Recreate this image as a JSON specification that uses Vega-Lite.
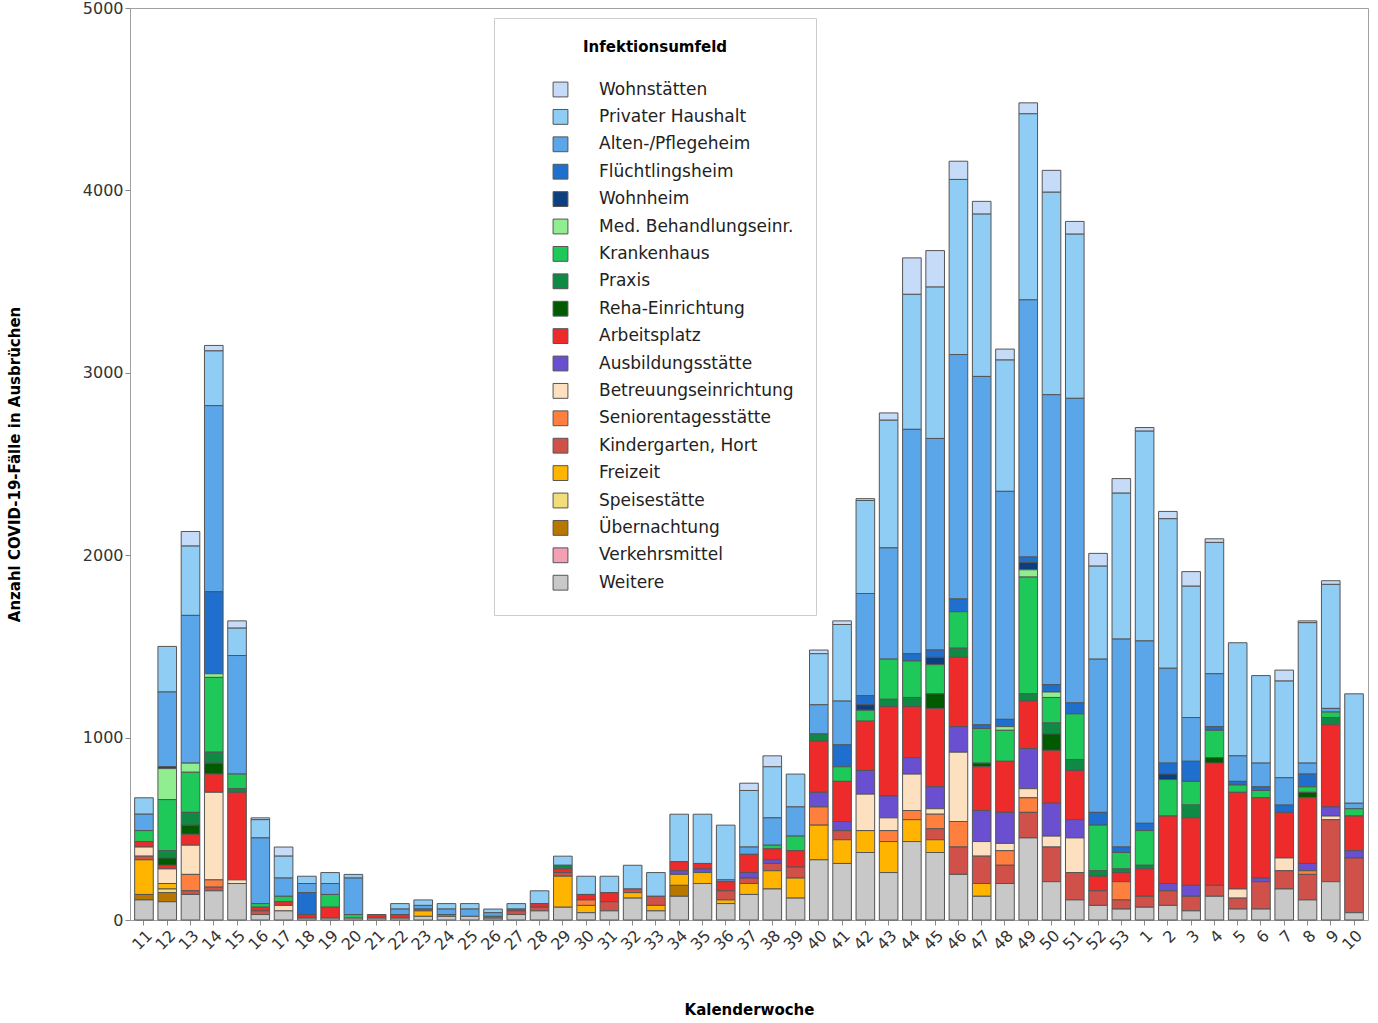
{
"$schema":"https://vega.github.io/schema/vega-lite/v6.json",
"width":1238,"height":912,"autosize":"none",
"padding":{"left":130,"top":8,"right":10,"bottom":103},
"background":"white",
"config":{"font":"DejaVu Sans","view":{"stroke":"#a0a0a0"}},
"data":{"values":[
{"w":"11","a19":110,"a17":30,"a15":190,"a12":50,"a14":20,"a10":30,"a07":60,"a03":90,"a02":90},
{"w":"12","a19":100,"a17":50,"a15":30,"a16":20,"a12":80,"a10":20,"a09":40,"a08":40,"a07":280,"a06":170,"a05":10,"a03":410,"a02":250},
{"w":"13","a19":140,"a14":20,"a13":90,"a12":160,"a10":60,"a09":50,"a08":70,"a07":220,"a06":50,"a03":810,"a02":380,"a01":80},
{"w":"14","a19":160,"a14":20,"a13":40,"a12":480,"a10":100,"a09":60,"a08":60,"a07":410,"a06":20,"a04":450,"a03":1020,"a02":300,"a01":30},
{"w":"15","a19":200,"a12":20,"a10":480,"a08":20,"a07":80,"a03":650,"a02":150,"a01":40},
{"w":"16","a19":30,"a14":20,"a10":20,"a07":20,"a03":360,"a02":100,"a01":10},
{"w":"17","a19":50,"a12":30,"a10":20,"a07":30,"a03":100,"a02":120,"a01":50},
{"w":"18","a19":10,"a10":20,"a04":120,"a03":50,"a02":40},
{"w":"19","a19":10,"a10":60,"a07":70,"a03":60,"a02":60},
{"w":"20","a19":10,"a07":20,"a03":200,"a02":20},
{"w":"21","a19":10,"a10":20},
{"w":"22","a19":10,"a10":20,"a03":30,"a02":30},
{"w":"23","a19":20,"a15":30,"a10":10,"a03":20,"a02":30},
{"w":"24","a19":20,"a07":10,"a03":30,"a02":30},
{"w":"25","a19":20,"a03":40,"a02":30},
{"w":"26","a19":10,"a07":10,"a03":20,"a02":20},
{"w":"27","a19":30,"a14":20,"a10":10,"a02":30},
{"w":"28","a19":50,"a14":20,"a10":20,"a02":70},
{"w":"29","a19":70,"a15":170,"a14":20,"a10":20,"a08":20,"a02":50},
{"w":"30","a19":40,"a15":40,"a13":30,"a10":30,"a02":100},
{"w":"31","a19":50,"a14":50,"a10":50,"a02":90},
{"w":"32","a19":120,"a15":30,"a14":20,"a02":130},
{"w":"33","a19":50,"a15":30,"a14":50,"a02":130},
{"w":"34","a19":130,"a17":60,"a15":60,"a10":50,"a11":20,"a02":260},
{"w":"35","a19":200,"a15":60,"a10":30,"a11":20,"a02":270},
{"w":"36","a19":90,"a15":20,"a14":50,"a10":50,"a03":10,"a02":300},
{"w":"37","a19":140,"a15":60,"a14":30,"a10":100,"a11":30,"a03":40,"a02":310,"a01":40},
{"w":"38","a19":170,"a15":100,"a14":40,"a10":60,"a11":20,"a07":20,"a03":150,"a02":280,"a01":60},
{"w":"39","a19":120,"a15":110,"a14":60,"a10":90,"a07":80,"a03":160,"a02":180},
{"w":"40","a19":330,"a15":190,"a13":100,"a11":80,"a10":280,"a08":40,"a03":160,"a02":280,"a01":20},
{"w":"41","a19":310,"a15":130,"a14":50,"a11":50,"a10":220,"a07":80,"a04":120,"a03":240,"a02":420,"a01":20},
{"w":"42","a19":370,"a15":120,"a12":200,"a11":130,"a10":270,"a07":60,"a05":30,"a04":50,"a03":560,"a02":510,"a01":10},
{"w":"43","a19":260,"a15":170,"a12":70,"a13":60,"a11":120,"a10":490,"a08":40,"a07":220,"a03":610,"a02":700,"a01":40},
{"w":"44","a19":430,"a15":120,"a12":200,"a13":50,"a11":90,"a10":280,"a08":50,"a07":200,"a04":40,"a03":1230,"a02":740,"a01":200},
{"w":"45","a19":370,"a15":70,"a14":60,"a13":80,"a12":30,"a11":120,"a10":430,"a09":80,"a07":160,"a05":40,"a04":40,"a03":1160,"a02":830,"a01":200},
{"w":"46","a19":250,"a14":150,"a13":140,"a12":380,"a11":140,"a10":380,"a08":50,"a07":200,"a04":70,"a03":1340,"a02":960,"a01":100},
{"w":"47","a19":130,"a15":70,"a14":150,"a12":80,"a11":170,"a10":240,"a09":20,"a07":190,"a04":20,"a03":1910,"a02":890,"a01":70},
{"w":"48","a19":200,"a14":100,"a13":80,"a12":40,"a11":170,"a10":280,"a07":170,"a06":20,"a04":40,"a03":1250,"a02":720,"a01":60},
{"w":"49","a19":450,"a14":140,"a13":80,"a12":50,"a11":220,"a10":260,"a08":40,"a07":640,"a06":40,"a05":40,"a04":30,"a03":1410,"a02":1020,"a01":60},
{"w":"50","a19":210,"a14":190,"a12":60,"a11":180,"a10":290,"a09":90,"a08":60,"a07":140,"a06":30,"a04":40,"a03":1590,"a02":1110,"a01":120},
{"w":"51","a19":110,"a14":150,"a12":190,"a11":100,"a10":270,"a08":60,"a07":250,"a04":60,"a03":1670,"a02":900,"a01":70},
{"w":"52","a19":80,"a14":80,"a10":80,"a08":30,"a07":250,"a04":70,"a03":840,"a02":510,"a01":70},
{"w":"53","a19":60,"a13":100,"a14":50,"a10":50,"a08":20,"a07":90,"a04":30,"a03":1140,"a02":800,"a01":80},
{"w":"1","a19":70,"a14":60,"a10":150,"a08":20,"a07":190,"a04":40,"a03":1000,"a02":1150,"a01":20},
{"w":"2","a19":80,"a14":80,"a11":40,"a10":370,"a07":200,"a05":30,"a04":60,"a03":520,"a02":820,"a01":40},
{"w":"3","a19":50,"a14":80,"a11":60,"a10":370,"a08":70,"a07":130,"a04":110,"a03":240,"a02":720,"a01":80},
{"w":"4","a19":130,"a14":60,"a10":670,"a09":30,"a07":150,"a04":20,"a03":290,"a02":720,"a01":20},
{"w":"5","a19":60,"a14":60,"a12":50,"a10":530,"a07":40,"a04":20,"a03":140,"a02":620},
{"w":"6","a19":60,"a14":150,"a11":20,"a10":440,"a07":40,"a04":20,"a03":130,"a02":480},
{"w":"7","a19":170,"a14":100,"a12":70,"a10":250,"a04":40,"a03":150,"a02":530,"a01":60},
{"w":"8","a19":110,"a14":140,"a13":20,"a11":40,"a10":360,"a09":30,"a07":30,"a04":70,"a03":60,"a02":770,"a01":10},
{"w":"9","a19":210,"a14":340,"a12":20,"a11":50,"a10":450,"a08":40,"a07":30,"a03":20,"a02":680,"a01":20},
{"w":"10","a19":40,"a14":300,"a11":40,"a10":190,"a07":40,"a03":30,"a02":600}
]},
"transform":[{"fold":["a01","a02","a03","a04","a05","a06","a07","a08","a09","a10","a11","a12","a13","a14","a15","a16","a17","a18","a19"],"as":["k","v"]},{"filter":"isValid(datum.v)"}],
"mark":{"type":"bar","stroke":"#555555","strokeWidth":1},
"encoding":{
"x":{"field":"w","type":"ordinal","sort":null,"title":"Kalenderwoche","scale":{"paddingInner":0.2,"paddingOuter":0.2},
 "axis":{"labelAngle":-45,"labelFontSize":16,"labelColor":"#333","titleFontSize":15,"titleFontWeight":"bold","titlePadding":50,"ticks":true,"domain":false}},
"y":{"field":"v","type":"quantitative","aggregate":"sum","title":"Anzahl COVID-19-Fälle in Ausbrüchen","scale":{"domain":[0,5000]},
 "axis":{"values":[0,1000,2000,3000,4000,5000],"format":"d","grid":false,"labelFontSize":16,"labelColor":"#333","titleFontSize":15,"titleFontWeight":"bold","titlePadding":60,"domain":false}},
"order":{"field":"k","sort":"descending"},
"color":{"field":"k","type":"nominal","title":"Infektionsumfeld",
 "scale":{"domain":["a01","a02","a03","a04","a05","a06","a07","a08","a09","a10","a11","a12","a13","a14","a15","a16","a17","a18","a19"],
  "range":["#c6dbf7","#8fcdf5","#5aa6e8","#1f6fcf","#0d3f80","#90ee90","#1ec95a","#0f8a45","#005a00","#ee2b2b","#6a4fd0","#fde0c0","#ff7f3f","#d0504a","#ffb400","#f3dc7a","#b87800","#f4a0b4","#c8c8c8"]},
 "legend":{"orient":"none","legendX":364,"legendY":10,"padding":22,"strokeColor":"#cccccc","fillColor":"white","titleFontSize":15,"titleFontWeight":"bold","titlePadding":26,"titleAnchor":"middle","labelFontSize":17,"labelColor":"#222","symbolType":"square","symbolSize":220,"symbolStrokeColor":"#555","symbolStrokeWidth":1,"rowPadding":8.4,"labelOffset":30,"labelLimit":300,"offset":0,"symbolOffset":36,
  "labelExpr":"{'a01':'Wohnstätten','a02':'Privater Haushalt','a03':'Alten-/Pflegeheim','a04':'Flüchtlingsheim','a05':'Wohnheim','a06':'Med. Behandlungseinr.','a07':'Krankenhaus','a08':'Praxis','a09':'Reha-Einrichtung','a10':'Arbeitsplatz','a11':'Ausbildungsstätte','a12':'Betreuungseinrichtung','a13':'Seniorentagesstätte','a14':'Kindergarten, Hort','a15':'Freizeit','a16':'Speisestätte','a17':'Übernachtung','a18':'Verkehrsmittel','a19':'Weitere'}[datum.value]"}}
}
}
